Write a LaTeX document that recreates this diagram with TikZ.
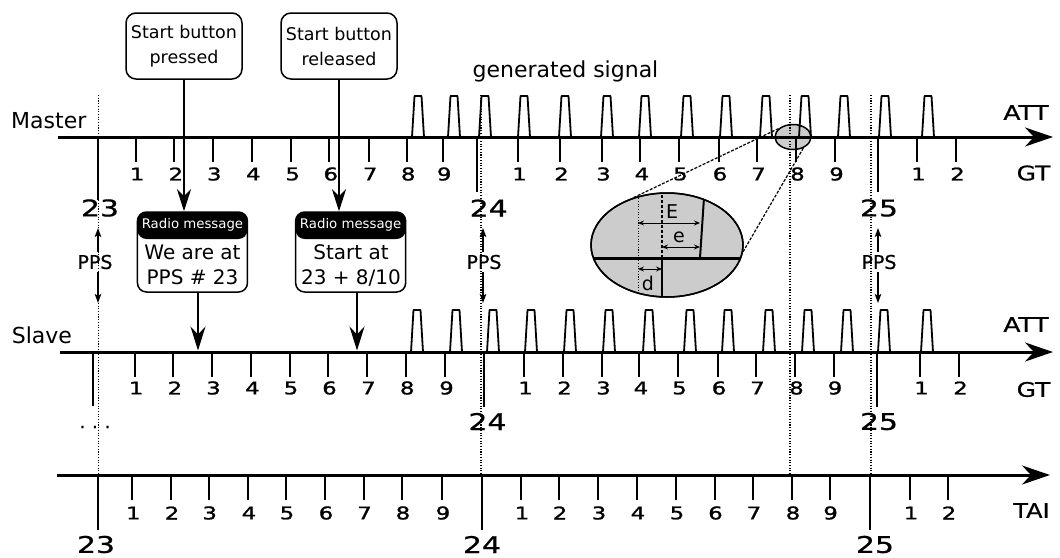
\documentclass[tikz,border=0pt]{standalone}
\usepackage{fontspec}
\usepackage{graphicx}
\setmainfont{DejaVu Sans}
\newfontfamily\heavy[FakeBold=1.2]{DejaVu Sans}
\newfontfamily\semiheavy[FakeBold=0.7]{DejaVu Sans}
\usetikzlibrary{arrows.meta,shapes.geometric}
\newcommand\fsz[2]{\fontsize{#1}{#2}\selectfont}
\newcommand\wide[2]{\scalebox{#1}[1]{#2}}

\tikzset{
  axisline/.style={line width=3pt,-{Stealth[length=28pt,width=19pt,inset=9pt]}},
  tickline/.style={line width=2pt},
  pulseline/.style={line width=1.8pt,line join=round},
  guide/.style={line width=1.1pt,dash pattern=on 1.1pt off 1.6pt},
  pressarrow/.style={line width=2pt,-{Stealth[length=22pt,width=14pt,inset=7pt]}},
  msgarrow/.style={line width=1.5pt,-{Stealth[length=24pt,width=15pt,inset=8pt]}},
  ppsarrow/.style={line width=1.5pt,-{Stealth[length=9pt,width=6.5pt,inset=2pt]}},
  dimarrow/.style={line width=0.9pt,{Stealth[length=6pt,width=5pt]}-{Stealth[length=6pt,width=5pt]}},
  zoomline/.style={line width=1.2pt,dash pattern=on 3pt off 1.5pt},
  lens/.style={ellipse,draw,line width=1.5pt,fill=gray!40,inner sep=0pt},
  ticknum/.style={inner sep=0pt,font=\heavy\fsz{17.5}{20}},
  secnum/.style={inner sep=0pt,font=\semiheavy\fsz{23}{26}},
  axisname/.style={inner sep=0pt,font=\semiheavy\fsz{20}{24}},
  rowname/.style={inner sep=0pt,font=\fsz{22}{26},anchor=base west},
  ppslabel/.style={inner sep=3pt,font=\semiheavy\fsz{19}{22}},
  button/.style={draw,line width=1.5pt,rounded corners=10pt,minimum width=116pt,
    minimum height=66pt,inner sep=0pt,align=center,font=\fsz{17.5}{25}},
  radiobox/.style={draw,line width=1.5pt,rounded corners=9pt,minimum width=110pt,
    minimum height=80pt,inner sep=0pt,
    path picture={\fill[black] (path picture bounding box.north west)
      rectangle ([yshift=-27pt]path picture bounding box.north east);}},
  radiohead/.style={inner sep=0pt,text=white,font=\fsz{13.3}{15}},
  radiobody/.style={inner sep=0pt,align=center,font=\fsz{20}{25}},
  dimlabel/.style={inner sep=0pt,font=\fsz{19}{22}},
}

\begin{document}
\begin{tikzpicture}[x=1pt,y=-1pt]
\useasboundingbox (0,0) rectangle (1060,557);

% small magnifier on the master axis
\node[lens,minimum width=36pt,minimum height=25pt] (lens) at (793,137) {};

% dotted guides for the PPS instants and the start instant
\foreach \x/\nm in {98.5/a,481/b,790/c,871/d}{
  \coordinate (gt\nm) at (\x,95);
  \coordinate (gb\nm) at (\x,475);
  \draw[guide] (gt\nm) -- (gb\nm);
}

% ---------------- Master timeline ----------------
\coordinate (ms) at (58,137);
\coordinate (me) at (1053,137);
\draw[axisline] (ms) -- (me);
\foreach \x/\n [count=\i] in {135.7/1,174.4/2,212.8/3,251.8/4,291.2/5,329.3/6,368.7/7,406.7/8,442.7/9,
    518/1,560/2,602/3,640.4/4,679/5,718.5/6,757/7,796/8,835/9,917/1,956/2}{
  \draw[tickline] (\x,137) -- (\x,162);
  \node[ticknum] (mn\i) at (\x+1.5,174) {\wide{1.3}{\n}};
}
\foreach \x/\yb/\n/\lx in {97.6/200/23/100,477/192/24/488.7,878/192/25/879}{
  \draw[tickline] (\x,137) -- (\x,\yb);
  \node[secnum] (ms\n) at (\lx,208) {\wide{1.3}{\n}};
}
\foreach \l in {412,448,479,518,559,601,639,681,720,760,799,838,879,922}{
  \draw[pulseline] (\l,137) -- (\l+2.5,96) -- (\l+9.5,96) -- (\l+12,137);
}
\node[rowname] (master) at (11,128) {Master};
\node[axisname] (matt) at (1026,112.5) {\wide{1.25}{ATT}};
\node[axisname] (mgt) at (1033.5,173) {\wide{1.25}{GT}};
\node[rowname,anchor=base] (gen) at (565.5,77) {generated signal};

% ---------------- Slave timeline ----------------
\coordinate (ss) at (60,352);
\coordinate (se) at (1053,352);
\draw[axisline] (ss) -- (se);
\foreach \x/\n [count=\i] in {134.7/1,173.4/2,212/3,251/4,289.5/5,328/6,367/7,405.7/8,445/9,
    524/1,563/2,602/3,639.4/4,678/5,717.5/6,756/7,795/8,833.5/9,920/1,959/2}{
  \draw[tickline] (\x,352) -- (\x,377);
  \node[ticknum] (sn\i) at (\x+1.5,388) {\wide{1.3}{\n}};
}
\draw[tickline] (93.3,352) -- (93.3,406);
\node[ticknum,font=\heavy\fsz{17}{20}] (sdots) at (95,427) {. . .};
\foreach \x/\n/\lx in {484/24/487.5,877/25/879}{
  \draw[tickline] (\x,352) -- (\x,407);
  \node[secnum] (ss\n) at (\lx,421.5) {\wide{1.3}{\n}};
}
\foreach \l in {411,450,487,525,564,603,643,684,722,763,802,841,878,921}{
  \draw[pulseline] (\l,352) -- (\l+2.5,310) -- (\l+9.5,310) -- (\l+12,352);
}
\node[rowname] (slave) at (11.6,343) {Slave};
\node[axisname] (satt) at (1026,324.5) {\wide{1.25}{ATT}};
\node[axisname] (sgt) at (1033.5,389.5) {\wide{1.25}{GT}};

% ---------------- TAI timeline ----------------
\coordinate (ts) at (57,475);
\coordinate (te) at (1050,475);
\draw[axisline] (ts) -- (te);
\foreach \x/\n [count=\i] in {132.3/1,171/2,208.7/3,248/4,286/5,325/6,363.6/7,402/8,442/9,
    521/1,559/2,598/3,637/4,676/5,714.5/6,753/7,792/8,829.6/9,910/1,948/2}{
  \draw[tickline] (\x,475) -- (\x,500);
  \node[ticknum] (tn\i) at (\x+1,513) {\wide{1.3}{\n}};
}
\foreach \x/\n/\lx in {98.3/23/96,482/24/482,870/25/875}{
  \draw[tickline] (\x,475) -- (\x,530);
  \node[secnum] (ts\n) at (\lx,544.5) {\wide{1.3}{\n}};
}
\node[axisname] (tai) at (1031.5,510.5) {\wide{1.2}{TAI}};

% ---------------- PPS markers ----------------
\foreach \tx/\ax/\nm in {95/98/a,484/483/b,879/878/c}{
  \node[ppslabel] (pps\nm) at (\tx,262) {PPS};
  \coordinate (up\nm) at (\ax,228);
  \coordinate (dn\nm) at (\ax,303);
  \draw[ppsarrow] (pps\nm.north -| up\nm) -- (up\nm);
  \draw[ppsarrow] (pps\nm.south -| dn\nm) -- (dn\nm);
}

% ---------------- button events and radio messages ----------------
\node[button] (b1) at (184,46) {Start button\\pressed};
\node[button] (b2) at (339,46) {Start button\\released};

\node[radiobox] (r1) at (192.45,252) {};
\node[radiohead] (r1h) at ([yshift=-13.5pt]r1.north) {Radio message};
\node[radiobody] (r1b) at (192.5,265) {We are at\\PPS \# 23};

\node[radiobox] (r2) at (350.65,252) {};
\node[radiohead] (r2h) at ([yshift=-13.5pt]r2.north) {Radio message};
\node[radiobody] (r2b) at (351,266) {Start at\\23 + 8/10};

\draw[pressarrow] (b1.south) -- (b1.south |- r1.north);
\draw[pressarrow] (b2.south) -- (b2.south |- r2.north);

\coordinate (hit1) at (198,350.5);
\coordinate (hit2) at (357,350.5);
\draw[msgarrow] (r1.south -| hit1) -- (hit1);
\draw[msgarrow] (r2.south -| hit2) -- (hit2);

% ---------------- magnified detail ----------------
\node[lens,minimum width=152pt,minimum height=104pt] (mag) at (667,245) {};
\begin{scope}
  \clip (667,245) ellipse [x radius=76, y radius=52];
  \draw[line width=3pt] (588,258) -- (746,258);
  \draw[guide,line width=0.9pt] (638,190) -- (638,300);
  \draw[line width=1.2pt,dash pattern=on 3pt off 2pt] (662,190) -- (662,258);
  \draw[line width=2pt] (662,258) -- (662,300);
  \draw[line width=2pt] (704.5,190) -- (700,258);
\end{scope}
\draw[line width=1.5pt] (667,245) ellipse [x radius=76, y radius=52];
\draw[dimarrow] (638,223) -- (700,223);
\draw[dimarrow] (662,247) -- (700,247);
\draw[dimarrow] (638,269) -- (662,269);
\node[dimlabel] (lE) at (672,212) {E};
\node[dimlabel] (le) at (679,237) {e};
\node[dimlabel] (ld) at (648,283) {d};

\draw[zoomline] (lens.150) -- (mag.125);
\draw[zoomline] (lens.-47) -- (mag.-5);
\end{tikzpicture}
\end{document}
